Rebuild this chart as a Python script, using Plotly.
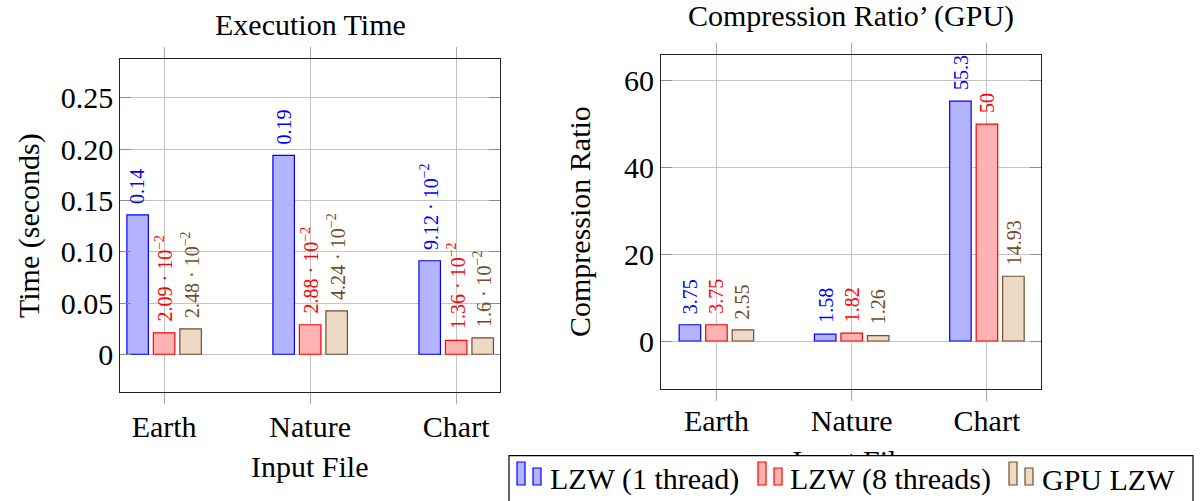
import math
import plotly.graph_objects as go

# ---------------- data ----------------
files = ["Earth", "Nature", "Chart"]
series = ["LZW (1 thread)", "LZW (8 threads)", "GPU LZW"]

time_lzw1 = [0.136, 0.194, 0.0912]
time_lzw8 = [0.0209, 0.0288, 0.0136]
time_gpu = [0.0248, 0.0424, 0.016]

ratio_lzw1 = [3.75, 1.58, 55.3]
ratio_lzw8 = [3.75, 1.82, 50.0]
ratio_gpu = [2.55, 1.26, 14.93]

time_ticks = [0, 0.05, 0.10, 0.15, 0.20, 0.25]
time_ticklabels = ["0", "0.05", "0.10", "0.15", "0.20", "0.25"]
ratio_ticks = [0, 20, 40, 60]
ratio_ticklabels = ["0", "20", "40", "60"]

line_colors = ["#0000ff", "#ff0000", "#734d26"]
fill_colors = ["#b3b3ff", "#ffb3b3", "#ecd9c6"]

W, H = 1204, 501
FONT = "Liberation Serif, DejaVu Serif, serif"

# layout geometry (pixels)
L_dom_x = (120.3, 500.0)
L_dom_y = (59.3, 392.3)
R_dom_x = (661.0, 1041.0)
R_dom_y = (54.7, 389.0)
L_xrange = [-0.3, 2.3]
R_xrange = [-0.41, 2.40]
L_yrange = [-0.0371, 0.2877]
R_yrange = [-11.06, 66.0]

BAR_W_PX = 21.5
SLOT_PX = 26.5


def fmt(v):
    if v != 0 and abs(v) < 0.1:
        e = math.floor(math.log10(abs(v)))
        m = round(v / 10 ** e, 2)
        ms = f"{m:.2f}".rstrip("0").rstrip(".")
        return f"{ms} · 10<sup>−{-e}</sup>"
    return f"{round(v, 2):.2f}".rstrip("0").rstrip(".")


def paper_x(px):
    return px / W


def paper_y(py):
    return 1 - py / H


fig = go.Figure()
annotations = []


def add_group(values_list, xaxis, yaxis, xrange, domx):
    px_per_unit = (domx[1] - domx[0]) / (xrange[1] - xrange[0])
    bw = BAR_W_PX / px_per_unit
    slot = SLOT_PX / px_per_unit
    for k, vals in enumerate(values_list):
        center = (k - 1) * slot
        fig.add_trace(go.Bar(
            x=files, y=vals, name=series[k],
            xaxis=xaxis, yaxis=yaxis,
            width=bw, offset=center - bw / 2,
            marker=dict(color=fill_colors[k],
                        line=dict(color=line_colors[k], width=1.2)),
            legendgroup=series[k], showlegend=False,
        ))
        for i, v in enumerate(vals):
            annotations.append(dict(
                x=i + center, y=v, xref=xaxis, yref=yaxis,
                text=fmt(v), textangle=-90, showarrow=False,
                xanchor="center", yanchor="bottom", yshift=10,
                borderpad=0,
                font=dict(family=FONT, size=20, color=line_colors[k]),
            ))


add_group([time_lzw1, time_lzw8, time_gpu], "x", "y", L_xrange, L_dom_x)
add_group([ratio_lzw1, ratio_lzw8, ratio_gpu], "x2", "y2", R_xrange, R_dom_x)

axis_common = dict(
    showline=True, linecolor="#222222", linewidth=1.2,
    mirror="ticks", showgrid=True, gridcolor="#c4c4c4", gridwidth=1,
    zeroline=False, automargin=False,
    tickfont=dict(family=FONT, size=30, color="black"),
)

fig.update_layout(
    width=W, height=H,
    margin=dict(l=0, r=0, t=0, b=0, autoexpand=False),
    paper_bgcolor="white", plot_bgcolor="white",
    font=dict(family=FONT, color="black"),
    barmode="overlay",
    showlegend=False,
    xaxis=dict(domain=[paper_x(L_dom_x[0]), paper_x(L_dom_x[1])],
               range=L_xrange, type="category",
               ticks="outside", ticklen=11, tickcolor="#a8a8a8", tickwidth=1,
               ticklabelstandoff=-3,
               anchor="y", **axis_common),
    yaxis=dict(domain=[paper_y(L_dom_y[1]), paper_y(L_dom_y[0])],
               range=L_yrange, tickvals=time_ticks, ticktext=time_ticklabels,
               ticks="inside", ticklen=11, tickcolor="#8c8c8c", tickwidth=1,
               anchor="x", **axis_common),
    xaxis2=dict(domain=[paper_x(R_dom_x[0]), paper_x(R_dom_x[1])],
                range=R_xrange, type="category",
                ticks="outside", ticklen=11, tickcolor="#a8a8a8", tickwidth=1,
                ticklabelstandoff=-6,
                anchor="y2", **axis_common),
    yaxis2=dict(domain=[paper_y(R_dom_y[1]), paper_y(R_dom_y[0])],
                range=R_yrange, tickvals=ratio_ticks, ticktext=ratio_ticklabels,
                ticks="inside", ticklen=11, tickcolor="#8c8c8c", tickwidth=1,
                anchor="x2", **axis_common),
)

title_font = dict(family=FONT, size=30, color="black")
annotations += [
    dict(text="Execution Time", x=paper_x(310), y=paper_y(24), xref="paper", yref="paper",
         showarrow=False, xanchor="center", yanchor="middle", font=title_font),
    dict(text="Compression Ratio’ (GPU)", x=paper_x(851), y=paper_y(16), xref="paper", yref="paper",
         showarrow=False, xanchor="center", yanchor="middle", font=title_font),
    dict(text="Time (seconds)", x=paper_x(29), y=paper_y(226), xref="paper", yref="paper",
         textangle=-90, showarrow=False, xanchor="center", yanchor="middle", font=title_font),
    dict(text="Compression Ratio", x=paper_x(580), y=paper_y(222), xref="paper", yref="paper",
         textangle=-90, showarrow=False, xanchor="center", yanchor="middle", font=title_font),
    dict(text="Input File", x=paper_x(310), y=paper_y(466), xref="paper", yref="paper",
         showarrow=False, xanchor="center", yanchor="middle", font=title_font),
]

# right x-axis title sits beneath the legend box: shape layer (drawn before the legend box)
fig.add_shape(type="rect", xref="paper", yref="paper",
              x0=paper_x(780), x1=paper_x(922), y0=paper_y(477), y1=paper_y(437),
              line=dict(width=0), fillcolor="rgba(0,0,0,0)",
              label=dict(text="Input File", textposition="middle center",
                         font=dict(family=FONT, size=30, color="black")))

# ---------------- legend (box, two-bar icons, labels) ----------------
fig.add_shape(type="rect", xref="paper", yref="paper",
              x0=paper_x(509), x1=paper_x(1193), y0=paper_y(503), y1=paper_y(455.7),
              line=dict(color="black", width=1.2), fillcolor="white")
legend_icon_x = [517, 758, 1009]
legend_text_x = [548, 788, 1040]
for k in range(3):
    x0 = legend_icon_x[k]
    for (dx, ytop) in [(0, 462), (16, 468)]:
        fig.add_shape(type="rect", xref="paper", yref="paper",
                      x0=paper_x(x0 + dx), x1=paper_x(x0 + dx + 8),
                      y0=paper_y(485), y1=paper_y(ytop),
                      line=dict(color=line_colors[k], width=1.2),
                      fillcolor=fill_colors[k])
    annotations.append(dict(
        text=series[k], x=paper_x(legend_text_x[k]), y=paper_y(479),
        xref="paper", yref="paper", showarrow=False,
        xanchor="left", yanchor="middle", font=title_font))

fig.update_layout(annotations=annotations)

fig.write_html("out.html")
